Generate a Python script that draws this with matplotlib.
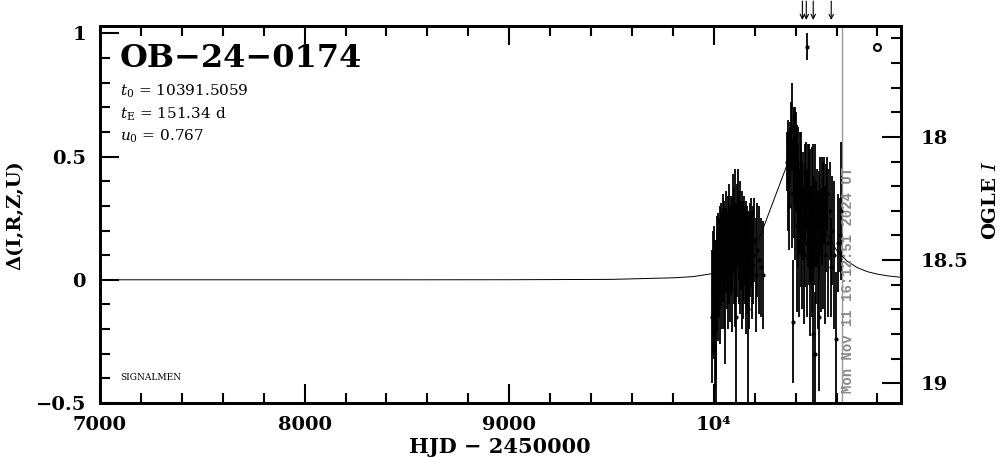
import numpy as np
import matplotlib.pyplot as plt
from matplotlib.ticker import MultipleLocator
from matplotlib.transforms import blended_transform_factory

plt.rcParams['font.family'] = 'DejaVu Serif'
plt.rcParams['mathtext.fontset'] = 'dejavuserif'

# model light curve (HJD-2450000, delta mag)
mod_t = [7000, 7500, 8000, 8500, 9000, 9500, 9800, 9900, 10000, 10050, 10100,
         10150, 10200, 10230, 10355, 10370, 10391, 10410, 10430, 10460, 10500,
         10550, 10600, 10650, 10700, 10750, 10800, 10850, 10915]
mod_d = [0.0, 0.0, 0.0, 0.0, 0.0003, 0.0017, 0.008, 0.013, 0.026, 0.038, 0.058,
         0.089, 0.140, 0.184, 0.460, 0.481, 0.493, 0.485, 0.456, 0.390, 0.292,
         0.190, 0.120, 0.077, 0.050, 0.033, 0.023, 0.016, 0.010]

# season 2023
t1 = [9993, 9996, 9999, 10002, 10004, 10007, 10010, 10012, 10015, 10018,
      10020, 10023, 10026, 10029, 10031, 10034, 10037, 10040, 10043, 10046,
      10049, 10052, 10055, 10058, 10061, 10064, 10067, 10070, 10073, 10076,
      10079, 10082, 10085, 10088, 10091, 10094, 10097, 10100, 10103, 10106,
      10109, 10112, 10115, 10118, 10121, 10124, 10127, 10130, 10133, 10136,
      10139, 10142, 10145, 10148, 10151, 10155, 10159, 10163, 10167, 10171,
      10175, 10180, 10186, 10192, 10198, 10205, 10212, 10220, 10230, 10242]
d1 = [-0.15, -0.05, -0.10, 0.02, -0.18, -0.08, -0.20, -0.12, 0.00, 0.08,
      -0.03, 0.10, 0.05, 0.12, -0.02, 0.15, 0.08, 0.02, 0.18, 0.10,
      0.05, 0.14, -0.04, 0.12, 0.20, 0.08, 0.02, 0.16, 0.10, 0.22,
      0.05, 0.12, 0.18, 0.03, 0.14, 0.25, 0.10, 0.20, 0.28, 0.06,
      -0.15, 0.22, 0.12, 0.26, 0.18, 0.10, 0.24, 0.08, 0.14, 0.04,
      0.19, 0.12, 0.06, 0.16, 0.10, 0.02, 0.14, 0.08, -0.12, 0.04,
      0.12, 0.15, 0.06, 0.10, 0.16, 0.02, 0.12, 0.08, 0.05, 0.02]
e1 = [0.27, 0.25, 0.22, 0.20, 0.26, 0.24, 0.30, 0.28, 0.20, 0.18,
      0.22, 0.17, 0.20, 0.18, 0.24, 0.16, 0.20, 0.22, 0.17, 0.19,
      0.25, 0.18, 0.30, 0.17, 0.16, 0.20, 0.22, 0.18, 0.20, 0.17,
      0.22, 0.18, 0.16, 0.24, 0.19, 0.18, 0.20, 0.17, 0.17, 0.25,
      0.38, 0.17, 0.19, 0.19, 0.18, 0.20, 0.16, 0.22, 0.18, 0.24,
      0.17, 0.20, 0.22, 0.18, 0.20, 0.24, 0.18, 0.22, 0.40, 0.24,
      0.19, 0.18, 0.22, 0.20, 0.17, 0.23, 0.19, 0.22, 0.20, 0.22]

# season 2024
t2 = [10359, 10362, 10365, 10368, 10371, 10374, 10378, 10381, 10384, 10387,
      10390, 10393, 10396, 10399, 10402, 10405, 10408, 10411, 10414, 10418,
      10421, 10425, 10428, 10432, 10436, 10440, 10444, 10448, 10452, 10456,
      10460, 10463, 10466, 10469, 10472, 10475, 10478, 10481, 10484, 10487,
      10490, 10493, 10496, 10500, 10504, 10508, 10512, 10516, 10520, 10525,
      10530, 10535, 10540, 10545, 10550, 10555, 10560, 10566, 10572, 10580,
      10588, 10596, 10605, 10615, 10622]
d2 = [0.48, 0.40, 0.55, 0.30, 0.52, 0.45, 0.60, 0.35, 0.62, -0.17,
      0.50, 0.42, 0.55, 0.38, 0.48, 0.22, 0.45, 0.30, 0.40, 0.15,
      0.35, 0.25, 0.42, 0.18, 0.30, 0.10, 0.35, 0.22, 0.38, 0.15,
      0.30, 0.20, 0.35, 0.05, 0.28, 0.18, 0.32, 0.10, 0.25, -0.22,
      0.20, 0.30, -0.30, 0.15, 0.25, 0.08, -0.15, 0.22, 0.30, 0.12,
      0.28, 0.18, 0.32, 0.10, 0.25, 0.35, 0.15, 0.28, 0.05, 0.20,
      0.10, -0.24, 0.15, 0.18, 0.28]
e2 = [0.12, 0.20, 0.10, 0.18, 0.12, 0.16, 0.12, 0.22, 0.18, 0.25,
      0.20, 0.25, 0.15, 0.30, 0.20, 0.35, 0.18, 0.25, 0.22, 0.30,
      0.25, 0.28, 0.18, 0.30, 0.22, 0.28, 0.20, 0.25, 0.18, 0.30,
      0.25, 0.22, 0.20, 0.28, 0.25, 0.20, 0.22, 0.25, 0.30, 0.30,
      0.22, 0.25, 0.25, 0.25, 0.20, 0.28, 0.30, 0.22, 0.20, 0.25,
      0.22, 0.30, 0.18, 0.28, 0.22, 0.15, 0.30, 0.20, 0.20, 0.22,
      0.30, 0.27, 0.20, 0.15, 0.28]

# single bright point near the top
t_hi = [10457]
d_hi = [0.945]
e_hi = [0.055]

# alert arrows and current time
arrow_t = [10433, 10452, 10486, 10574]
now_t = 10626
now_label = "Mon Nov 11 16:12:51 2024 UT"
mark_t, mark_d = 10800, 0.943

xticks = [7000, 8000, 9000, 10000]
xtick_labels = ['7000', '8000', '9000', '10\u2074']
yticks = [-0.5, 0, 0.5, 1]
ytick_labels = ['\u22120.5', '0', '0.5', '1']
magticks = [18, 18.5, 19]

base_mag = 18.58
xlo, xhi = 7000, 10915
ylo, yhi = -0.5, 1.03

fig = plt.figure(figsize=(10.04, 4.59), dpi=100)
ax = fig.add_axes([100/1004, 56/459, 801/1004, 377/459])

ax.plot(mod_t, mod_d, color='black', lw=0.7, zorder=2)
ax.errorbar(t1, d1, yerr=e1, fmt='o', ms=2, color='black', ecolor='black',
            elinewidth=1.3, capsize=0, zorder=3)
ax.errorbar(t2, d2, yerr=e2, fmt='o', ms=2, color='black', ecolor='black',
            elinewidth=1.3, capsize=0, zorder=3)
ax.errorbar(t_hi, d_hi, yerr=e_hi, fmt='o', ms=2, color='black',
            elinewidth=1.3, capsize=0, zorder=3)
ax.plot([mark_t], [mark_d], 'o', ms=5, mfc='none', mec='black', mew=1.5)

ax.axvline(now_t, color='#999999', lw=1.0, zorder=1)
ax.text(now_t + 28, -0.46, now_label, rotation=90, color='#888888',
        fontsize=10, fontweight='bold', family='Liberation Mono',
        ha='center', va='bottom')

tr = blended_transform_factory(ax.transData, ax.transAxes)
for at in arrow_t:
    ax.annotate('', xy=(at, 1.016), xytext=(at, 1.066), xycoords=tr,
                textcoords=tr, annotation_clip=False,
                arrowprops=dict(arrowstyle='->', lw=0.8, color='black',
                                shrinkA=0, shrinkB=0, mutation_scale=8))

ax.set_xlim(xlo, xhi)
ax.set_ylim(ylo, yhi)
ax.set_xticks(xticks, xtick_labels)
ax.xaxis.set_minor_locator(MultipleLocator(200))
ax.set_yticks(yticks, ytick_labels)
ax.yaxis.set_minor_locator(MultipleLocator(0.1))
ax.tick_params(axis='x', which='both', direction='in', top=True, bottom=True,
               labelsize=14, pad=9, width=1.5)
ax.tick_params(axis='y', which='both', direction='in', left=True, right=False,
               labelsize=14, pad=10, width=1.5)
ax.tick_params(which='major', length=14)
ax.tick_params(which='minor', length=7)
for lab in ax.get_xticklabels() + ax.get_yticklabels():
    lab.set_fontweight('bold')
for sp in ax.spines.values():
    sp.set_linewidth(2)

ax2 = ax.twinx()
ax2.set_ylim(base_mag - ylo, base_mag - yhi)
ax2.set_yticks(magticks, ['18', '18.5', '19'])
ax2.yaxis.set_minor_locator(MultipleLocator(0.1))
ax2.tick_params(axis='y', which='both', direction='in', labelsize=14,
                pad=14, width=1.5)
ax2.tick_params(which='major', length=14)
ax2.tick_params(which='minor', length=7)
for lab in ax2.get_yticklabels():
    lab.set_fontweight('bold')
for sp in ax2.spines.values():
    sp.set_linewidth(2)

ax.text(0.025, 0.955, 'OB\u221224\u22120174', transform=ax.transAxes,
        fontsize=23, fontweight='bold', va='top', ha='left')
ax.text(0.025, 0.850, r'$t_0$ = 10391.5059', transform=ax.transAxes,
        fontsize=11, va='top')
ax.text(0.025, 0.790, r'$t_{\rm E}$ = 151.34 d', transform=ax.transAxes,
        fontsize=11, va='top')
ax.text(0.025, 0.731, r'$u_0$ = 0.767', transform=ax.transAxes,
        fontsize=11, va='top')
ax.text(0.025, 0.055, 'SIGNALMEN', transform=ax.transAxes, fontsize=6.5,
        va='bottom')

fig.text(500/1004, 1 - 447/459, 'HJD \u2212 2450000', fontsize=15,
         fontweight='bold', ha='center', va='center')
fig.text(15/1004, 1 - 215/459, '\u0394(I,R,Z,U)', fontsize=14,
         fontweight='bold', rotation=90, ha='center', va='center')
fig.text(991/1004, 1 - 200/459, r'OGLE $\mathit{I}$', fontsize=14,
         fontweight='bold', rotation=90, ha='center', va='center')

fig.savefig('out.png', dpi=100)
